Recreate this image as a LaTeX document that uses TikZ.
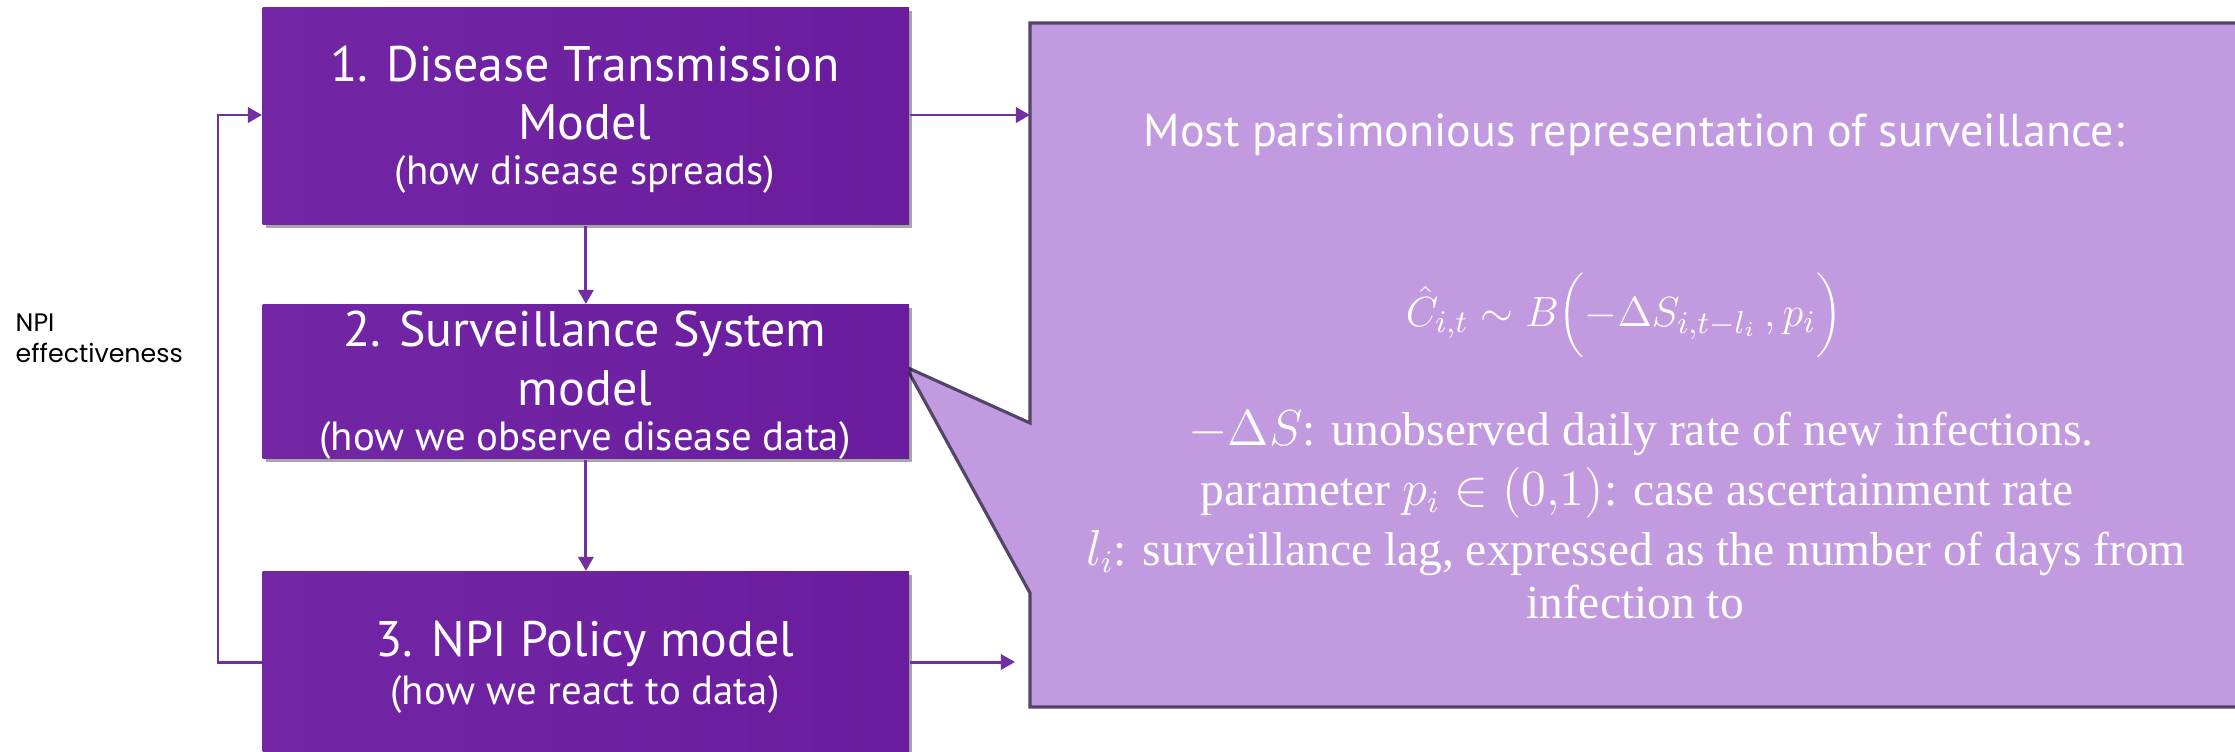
\documentclass[tikz,border=0pt]{standalone}
\usepackage{fontspec}
\setmainfont{Liberation Serif}
\newfontfamily\boxfont{PT Sans}
\newfontfamily\labfont{Poppins}
\usetikzlibrary{arrows.meta,shadows}
\definecolor{boxL}{RGB}{114,38,164}
\definecolor{boxR}{RGB}{106,28,158}
\definecolor{arrowpurple}{RGB}{112,48,160}
\definecolor{callfill}{RGB}{194,154,223}
\definecolor{calldraw}{RGB}{84,68,104}
\tikzset{
  pbox/.style={left color=boxL, right color=boxR, draw=none,
    inner sep=0pt, minimum width=6.46cm, anchor=north west,
    drop shadow={shadow xshift=0.03cm, shadow yshift=-0.03cm, opacity=0.35, fill=black}},
  ttl/.style={anchor=base, inner sep=0pt, text=white, font=\boxfont\fontsize{14.2}{16.5}\selectfont},
  sub/.style={anchor=base, inner sep=0pt, text=white, font=\boxfont\fontsize{11.6}{13}\selectfont},
  conn/.style={draw=arrowpurple, line width=0.85pt, -{Triangle[length=0.14cm, width=0.15cm]}},
  calltxt/.style={anchor=base, inner sep=0pt, text=white, font=\fontsize{13.5}{15}\selectfont},
}
\begin{document}
\begin{tikzpicture}[x=0.01cm, y=-0.01cm]
\useasboundingbox (0,0) rectangle (2235,751);
% callout
\path[fill=callfill, draw=calldraw, line width=0.9pt, line join=miter]
  (1030,23) -- (2260,23) -- (2260,707) -- (1030,707) -- (1030,593)
  -- (906,367) -- (1030,423) -- cycle;
% boxes
\node[pbox, minimum height=2.17cm] (b1) at (262,7) {};
\node[pbox, minimum height=1.54cm] (b2) at (262,304) {};
\node[pbox, minimum height=1.92cm] (b3) at (262,571) {};
% box texts
\node[ttl] (b1a) at (585,81)  {1. Disease Transmission};
\node[ttl] (b1b) at (585,139) {Model};
\node[sub] (b1c) at (585,184) {(how disease spreads)};
\node[ttl] (b2a) at (585,346) {2. Surveillance System};
\node[ttl] (b2b) at (585,405) {model};
\node[sub] (b2c) at (585,450) {(how we observe disease data)};
\node[ttl] (b3a) at (585,656) {3. NPI Policy model};
\node[sub] (b3b) at (585,704) {(how we react to data)};
% label
\node[anchor=base west, inner sep=0pt, font=\labfont\fontsize{7.2}{8.8}\selectfont] (lab1) at (15,331) {NPI};
\node[anchor=base west, inner sep=0pt, font=\labfont\fontsize{7.2}{8.8}\selectfont] (lab2) at (15,362) {effectiveness};
% callout texts
\node[anchor=base, inner sep=0pt, text=white, font=\boxfont\fontsize{13.1}{15}\selectfont] (t0) at (1634,146)
  {Most parsimonious representation of surveillance:};
\node[anchor=base, inner sep=0pt, text=white, font=\fontsize{13}{15}\selectfont] (eq) at (1624,326)
  {$\hat{C}_{i,t}\sim B\biggl(-\Delta S_{i,t-l_i}\,,p_i\biggr)$};
\node[calltxt] (t1) at (1641,445)
  {$-\Delta S$: unobserved daily rate of new infections.};
\node[calltxt] (t2) at (1637,505)
  {parameter $p_i\in(0{,}1)$: case ascertainment rate};
\node[calltxt] (t3) at (1636,565)
  {$l_i$: surveillance lag, expressed as the number of days from};
\node[calltxt] (t4) at (1635,618)
  {infection to};
% connectors
\coordinate (c1) at (1030,115);
\coordinate (c3) at (1015,662);
\coordinate (lb) at (218,662);
\coordinate (lt) at (218,115);
\draw[conn] (b1.east |- c1) -- (c1);
\draw[conn] (b3.east |- c3) -- (c3);
\draw[conn] (b1.south) -- (b2.north);
\draw[conn] (b2.south) -- (b3.north);
\draw[conn] (b3.west |- lb) -- (lb) -- (lt) -- (b1.west |- lt);
\end{tikzpicture}
\end{document}
